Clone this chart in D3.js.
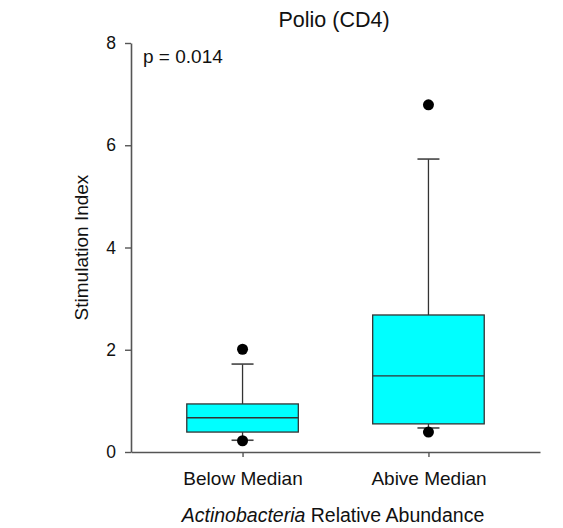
<!DOCTYPE html>
<html>
<head>
<meta charset="utf-8">
<script src="https://cdn.jsdelivr.net/npm/d3@7"></script>
<style>
  html, body { margin: 0; padding: 0; background: #fff; }
  svg { display: block; font-family: Arial, "Liberation Sans", sans-serif; }
</style>
</head>
<body>
<svg id="chart" width="563" height="528"></svg>
<script>
const categories = ["Below Median", "Abive Median"];
const whiskerLow = [0.23, 0.47];
const q1 = [0.39, 0.55];
const median = [0.67, 1.49];
const q3 = [0.94, 2.68];
const whiskerHigh = [1.72, 5.73];
const outlierCategory = ["Below Median", "Below Median", "Abive Median", "Abive Median"];
const outlierValue = [0.22, 2.01, 0.39, 6.79];
const yTicks = [0, 2, 4, 6, 8];

const svg = d3.select("#chart");
const margin = { left: 131, right: 23, top: 43, bottom: 76 };
const W = 563, H = 528;

const x = d3.scalePoint().domain(categories).range([margin.left, W - margin.right]).padding(0.6);
const y = d3.scaleLinear().domain([0, 8]).range([H - margin.bottom, margin.top]);
const boxW = x.step() * 0.6;
const capW = 22;
const stroke = "#333";

const boxes = categories.map((c, i) => ({
  c, lo: whiskerLow[i], q1: q1[i], med: median[i], q3: q3[i], hi: whiskerHigh[i]
}));

// axes
const yAxis = d3.axisLeft(y).tickValues(yTicks).tickSize(6).tickSizeOuter(0).tickPadding(9);
const gy = svg.append("g").attr("transform", `translate(${margin.left},0)`).call(yAxis);
gy.selectAll("text").attr("font-size", 17.5).attr("fill", "#111").attr("font-family", "Arial, 'Liberation Sans', sans-serif");

const xAxis = d3.axisBottom(x).tickSize(5).tickSizeOuter(0).tickPadding(15);
const gx = svg.append("g").attr("transform", `translate(0,${y(0)})`).call(xAxis);
gx.selectAll("text").attr("font-size", 19).attr("fill", "#111").attr("font-family", "Arial, 'Liberation Sans', sans-serif");

[gx, gy].forEach(g => {
  g.selectAll("path.domain").attr("stroke", "#555").attr("stroke-width", 1.6);
  g.selectAll(".tick line").attr("stroke", "#555").attr("stroke-width", 1.4);
});

// boxes
const gb = svg.append("g");
boxes.forEach(b => {
  const cx = x(b.c);
  gb.append("line").attr("x1", cx).attr("x2", cx).attr("y1", y(b.q3)).attr("y2", y(b.hi))
    .attr("stroke", stroke).attr("stroke-width", 1.3);
  gb.append("line").attr("x1", cx).attr("x2", cx).attr("y1", y(b.q1)).attr("y2", y(b.lo))
    .attr("stroke", stroke).attr("stroke-width", 1.3);
  gb.append("line").attr("x1", cx - capW / 2).attr("x2", cx + capW / 2).attr("y1", y(b.hi)).attr("y2", y(b.hi))
    .attr("stroke", "#444").attr("stroke-width", 1.6);
  gb.append("line").attr("x1", cx - capW / 2).attr("x2", cx + capW / 2).attr("y1", y(b.lo)).attr("y2", y(b.lo))
    .attr("stroke", "#444").attr("stroke-width", 1.6);
  gb.append("rect").attr("x", cx - boxW / 2).attr("width", boxW)
    .attr("y", y(b.q3)).attr("height", y(b.q1) - y(b.q3))
    .attr("fill", "#00FFFF").attr("stroke", stroke).attr("stroke-width", 1.3);
  gb.append("line").attr("x1", cx - boxW / 2).attr("x2", cx + boxW / 2).attr("y1", y(b.med)).attr("y2", y(b.med))
    .attr("stroke", stroke).attr("stroke-width", 1.3);
});

// outliers
svg.append("g").selectAll("circle")
  .data(outlierValue.map((v, i) => ({ c: outlierCategory[i], v })))
  .join("circle")
  .attr("cx", d => x(d.c)).attr("cy", d => y(d.v)).attr("r", 5.5).attr("fill", "#000");

// texts
svg.append("text").attr("x", 334).attr("y", 27).attr("text-anchor", "middle")
  .attr("font-size", 21.5).attr("fill", "#111").text("Polio (CD4)");
svg.append("text").attr("x", 143).attr("y", 63)
  .attr("font-size", 19).attr("fill", "#111").text("p = 0.014");
svg.append("text").attr("transform", `translate(88,${y(4)}) rotate(-90)`).attr("text-anchor", "middle")
  .attr("font-size", 19).attr("fill", "#111").text("Stimulation Index");
const xt = svg.append("text").attr("x", 333).attr("y", 522).attr("text-anchor", "middle")
  .attr("font-size", 19.5).attr("fill", "#111");
xt.append("tspan").attr("font-style", "italic").text("Actinobacteria");
xt.append("tspan").text(" Relative Abundance");
</script>
</body>
</html>
